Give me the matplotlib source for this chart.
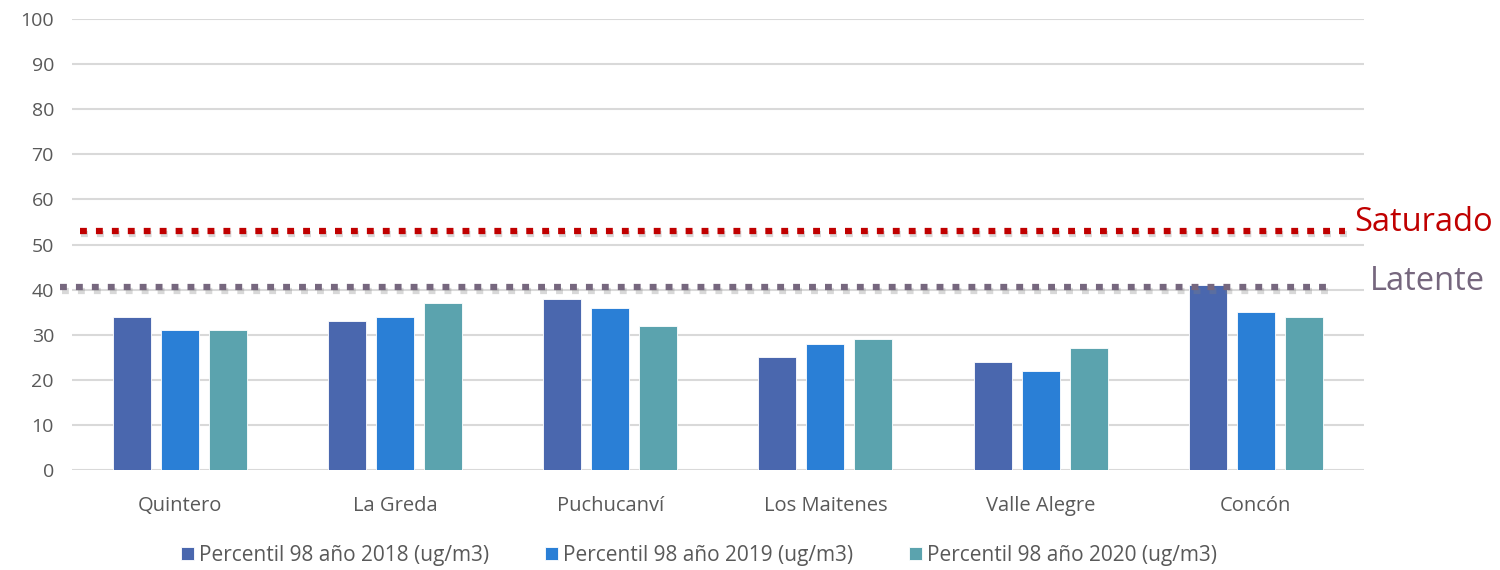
import matplotlib.pyplot as plt
import matplotlib.patheffects as pe
import numpy as np

stations = ["Quintero", "La Greda", "Puchucanví", "Los Maitenes", "Valle Alegre", "Concón"]
p98_2018 = [34, 33, 38, 25, 24, 41]
p98_2019 = [31, 34, 36, 28, 22, 35]
p98_2020 = [31, 37, 32, 29, 27, 34]
series_labels = ["Percentil 98 año 2018 (ug/m3)",
                 "Percentil 98 año 2019 (ug/m3)",
                 "Percentil 98 año 2020 (ug/m3)"]
yticks = [0, 10, 20, 30, 40, 50, 60, 70, 80, 90, 100]
saturado = 53
latente = 40.5

colors = ["#4A67AE", "#2A7FD6", "#5BA3AE"]
grey = "#595959"

plt.rcParams["font.family"] = ["Open Sans", "DejaVu Sans"]

fig = plt.figure(figsize=(15, 5.7), dpi=100)
ax = fig.add_axes([0.048, 0.1754, 0.861, 0.7913])

x = np.arange(len(stations))
width = 0.176
step = 0.223
for i, (vals, lab) in enumerate(zip([p98_2018, p98_2019, p98_2020], series_labels)):
    ax.bar(x + (i - 1) * step, vals, width, color=colors[i], label=lab,
           edgecolor="white", linewidth=0.6, zorder=2)

ax.set_xlim(-0.5, len(stations) - 0.5)
ax.set_ylim(0, 100)
ax.set_yticks(yticks)
ax.set_xticks(x)
ax.set_xticklabels(stations)
ax.yaxis.grid(True, color="#D9D9D9", linewidth=1.5, zorder=0)
ax.set_axisbelow(True)
for s in ax.spines.values():
    s.set_visible(False)
ax.tick_params(axis="both", length=0, labelcolor=grey)
ax.tick_params(axis="x", pad=19, labelsize=14.5)
ax.tick_params(axis="y", pad=13, labelsize=14)

shadow = [pe.SimpleLineShadow(offset=(1, -2.5), shadow_color="grey", alpha=0.3), pe.Normal()]
ax.axhline(saturado, xmin=0.006, xmax=0.986, color="#C00000", linewidth=4.5,
           linestyle=(0, (1.1, 1.45)), zorder=3, clip_on=False, path_effects=shadow)
ax.axhline(latente, xmin=-0.009, xmax=0.972, color="#76677E", linewidth=4.5,
           linestyle=(0, (1.1, 1.45)), zorder=3, clip_on=False, path_effects=shadow)
ax.text(0.993, saturado + 1.9, "Saturado", transform=ax.get_yaxis_transform(),
        color="#C00000", fontsize=23.5, ha="left", va="center")
ax.text(1.005, latente + 1.3, "Latente", transform=ax.get_yaxis_transform(),
        color="#76677E", fontsize=23.5, ha="left", va="center")

fig.legend(loc="center", bbox_to_anchor=(0.466, 0.026), ncol=3, frameon=False,
           fontsize=15, handlelength=0.6, handleheight=0.6, handletextpad=0.25,
           columnspacing=2.7, labelcolor=grey)

fig.savefig("out.png", dpi=100)
